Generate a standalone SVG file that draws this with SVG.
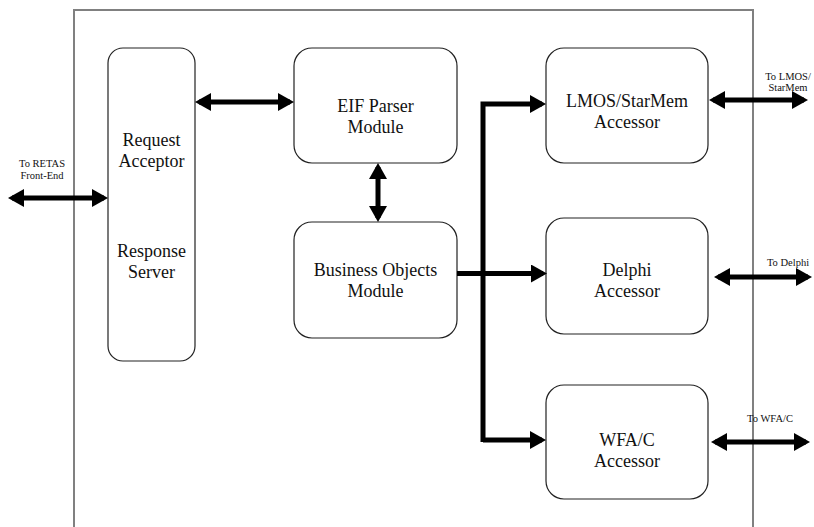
<svg xmlns="http://www.w3.org/2000/svg" width="814" height="527" viewBox="0 0 814 527">
<style>
.box{fill:#fff;stroke:#222;stroke-width:1.2}
.t{font-family:"Liberation Serif","Times New Roman",serif;font-size:18px;fill:#111;text-anchor:middle}
.s{font-family:"Liberation Serif","Times New Roman",serif;font-size:10.5px;fill:#111;text-anchor:middle}
.c{fill:none;stroke:#000;stroke-width:5}
</style>
<defs>
<marker id="ah" viewBox="0 0 16 18" refX="12" refY="9" markerWidth="16" markerHeight="18" markerUnits="userSpaceOnUse" orient="auto-start-reverse">
<path d="M0,0 L16,9 L0,18 z" fill="#000"/>
</marker>
</defs>
<rect width="814" height="527" fill="#fff"/>
<path d="M74,530 V10 H753 V530" fill="none" stroke="#808080" stroke-width="2"/>
<g id="request-acceptor">
<rect class="box" x="108" y="48" width="87" height="313" rx="15"/>
<text class="t" x="151.5" y="146">Request</text>
<text class="t" x="151.5" y="167">Acceptor</text>
<text class="t" x="151.5" y="257">Response</text>
<text class="t" x="151.5" y="278">Server</text>
</g>
<g id="eif-parser">
<rect class="box" x="294" y="48" width="163" height="115" rx="18"/>
<text class="t" x="375.5" y="112">EIF Parser</text>
<text class="t" x="375.5" y="133">Module</text>
</g>
<g id="business-objects">
<rect class="box" x="294" y="222" width="163" height="116" rx="18"/>
<text class="t" x="375.5" y="276">Business Objects</text>
<text class="t" x="375.5" y="297">Module</text>
</g>
<g id="lmos">
<rect class="box" x="546" y="48" width="162" height="115" rx="18"/>
<text class="t" x="627" y="107">LMOS/StarMem</text>
<text class="t" x="627" y="128">Accessor</text>
</g>
<g id="delphi">
<rect class="box" x="546" y="218" width="162" height="116" rx="18"/>
<text class="t" x="627" y="276">Delphi</text>
<text class="t" x="627" y="297">Accessor</text>
</g>
<g id="wfac">
<rect class="box" x="546" y="385" width="162" height="114" rx="18"/>
<text class="t" x="627" y="446">WFA/C</text>
<text class="t" x="627" y="467">Accessor</text>
</g>
<g id="labels">
<text class="s" x="42" y="167">To RETAS</text>
<text class="s" x="42" y="179">Front-End</text>
<text class="s" x="788" y="80">To LMOS/</text>
<text class="s" x="788" y="91">StarMem</text>
<text class="s" x="788" y="266">To Delphi</text>
<text class="s" x="770" y="422">To WFA/C</text>
</g>
<g id="connectors">
<path class="c" d="M12,198 H104" marker-start="url(#ah)" marker-end="url(#ah)"/>
<path class="c" d="M199,102 H290" marker-start="url(#ah)" marker-end="url(#ah)"/>
<path class="c" d="M378,167 V218" marker-start="url(#ah)" marker-end="url(#ah)"/>
<path class="c" d="M483,442 V104 H542" marker-end="url(#ah)"/>
<path class="c" d="M457,273.5 H543" marker-end="url(#ah)"/>
<path class="c" d="M483,440 H542" marker-end="url(#ah)"/>
<path class="c" d="M713,100 H804" marker-start="url(#ah)" marker-end="url(#ah)"/>
<path class="c" d="M718,277 H808" marker-start="url(#ah)" marker-end="url(#ah)"/>
<path class="c" d="M715,442 H806" marker-start="url(#ah)" marker-end="url(#ah)"/>
</g>
</svg>
